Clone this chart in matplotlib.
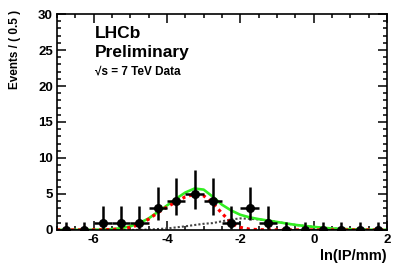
import numpy as np
import matplotlib
matplotlib.use("Agg")
import matplotlib.pyplot as plt
from matplotlib.ticker import MultipleLocator

plt.rcParams["font.family"] = ["Liberation Sans", "DejaVu Sans"]
plt.rcParams["font.weight"] = "bold"
plt.rcParams["axes.unicode_minus"] = False

# --- data: binned events (bin width 0.5) ------------------------------------
bin_centers = [-6.75, -6.25, -5.75, -5.25, -4.75, -4.25, -3.75, -3.25, -2.75,
               -2.25, -1.75, -1.25, -0.75, -0.25, 0.25, 0.75, 1.25, 1.75]
counts = [0, 0, 1, 1, 1, 3, 4, 5, 4, 1, 3, 1, 0, 0, 0, 0, 0, 0]
err_low = [0, 0, 0.83, 0.83, 0.83, 1.63, 1.91, 2.16, 1.91,
           0.83, 1.63, 0.83, 0, 0, 0, 0, 0, 0]
err_high = [1.15, 1.15, 2.3, 2.3, 2.3, 2.92, 3.16, 3.38, 3.16,
            2.3, 2.92, 2.3, 1.15, 1.15, 1.15, 1.15, 1.15, 1.15]

# --- fit curves, every 0.25 --------------------------------------------------
curve_x = [-7.0, -6.75, -6.5, -6.25, -6.0, -5.75, -5.5, -5.25, -5.0, -4.75,
           -4.5, -4.25, -4.0, -3.75, -3.5, -3.25, -3.0, -2.75, -2.5, -2.25,
           -2.0, -1.75, -1.5, -1.25, -1.0, -0.75, -0.5, -0.25, 0.0, 0.25,
           0.5, 0.75, 1.0, 1.25, 1.5, 1.75, 2.0]
total_fit = [0.0, 0.0, 0.0, 0.01, 0.02, 0.05, 0.1, 0.25, 0.5, 0.95,
             1.6, 2.5, 3.4, 4.35, 5.2, 5.75, 5.6, 4.6, 3.5, 2.7,
             2.1, 1.75, 1.5, 1.3, 1.1, 0.9, 0.7, 0.55, 0.42, 0.3,
             0.2, 0.14, 0.09, 0.06, 0.03, 0.02, 0.01]
signal_fit = [0.0, 0.0, 0.0, 0.0, 0.01, 0.02, 0.05, 0.15, 0.35, 0.75,
              1.5, 2.4, 3.2, 3.9, 4.6, 4.95, 4.75, 3.7, 2.3, 1.0,
              0.35, 0.1, 0.03, 0.01, 0.0, 0.0, 0.0, 0.0, 0.0, 0.0,
              0.0, 0.0, 0.0, 0.0, 0.0, 0.0, 0.0]
background_fit = [0.0, 0.0, 0.0, 0.0, 0.0, 0.0, 0.0, 0.0, 0.0, 0.01,
                  0.05, 0.12, 0.2, 0.35, 0.5, 0.68, 0.85, 0.95, 1.2, 1.45,
                  1.6, 1.55, 1.45, 1.3, 1.1, 0.9, 0.7, 0.55, 0.42, 0.3,
                  0.2, 0.14, 0.09, 0.06, 0.03, 0.02, 0.01]

fig = plt.figure(figsize=(4.07, 2.76), dpi=100)
ax = fig.add_axes([0.140, 0.167, 0.811, 0.782])

ax.plot(curve_x, background_fit, color="#444444", lw=1.5, ls=(0, (1, 1)))
ax.plot(curve_x, total_fit, color="#33ee22", lw=1.9)
ax.plot(curve_x, signal_fit, color="#ff0000", lw=2.3, ls=(0, (1, 1.2)))
ax.errorbar(bin_centers, counts, yerr=[err_low, err_high], xerr=0.25,
            fmt="o", color="black", ms=5.5, elinewidth=1.8, capsize=0)

ax.set_xlim(-7, 2)
ax.set_ylim(0, 30)
ax.xaxis.set_major_locator(MultipleLocator(2))
ax.xaxis.set_minor_locator(MultipleLocator(0.5))
ax.yaxis.set_major_locator(MultipleLocator(5))
ax.yaxis.set_minor_locator(MultipleLocator(1))
ax.tick_params(which="both", direction="in", top=True, right=True, width=1.1,
               labelsize=9.5, pad=3)
ax.tick_params(which="major", length=6.5)
ax.tick_params(which="minor", length=3)
for s in ax.spines.values():
    s.set_linewidth(1.2)

ax.set_ylabel("Events / ( 0.5 )", fontsize=8.5, fontweight="bold")
ax.yaxis.set_label_coords(-0.108, 0.835)
ax.set_xlabel("ln(IP/mm)", fontsize=10.5, fontweight="bold")
ax.xaxis.set_label_coords(1.0, -0.09)
ax.xaxis.label.set_horizontalalignment("right")

ax.text(0.116, 0.888, "LHCb", transform=ax.transAxes, fontsize=12.5,
        fontweight="bold")
ax.text(0.116, 0.803, "Preliminary", transform=ax.transAxes, fontsize=12.5,
        fontweight="bold")
ax.text(0.116, 0.72, "√s = 7 TeV Data", transform=ax.transAxes, fontsize=8.5,
        fontweight="bold")

fig.savefig("out.png", dpi=100)
